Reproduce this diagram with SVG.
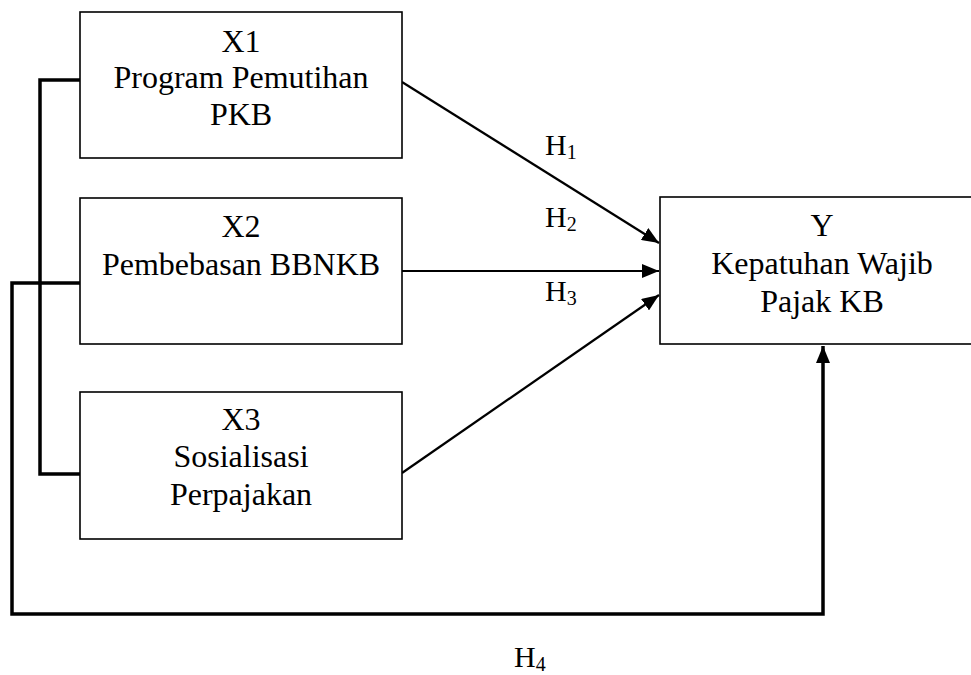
<svg xmlns="http://www.w3.org/2000/svg" width="971" height="675" viewBox="0 0 971 675">
<style>
.box{fill:#fff;stroke:#000;stroke-width:1.6}
.t{font-family:'Liberation Serif','DejaVu Serif','Times New Roman',serif;font-size:32px;fill:#000;text-anchor:middle}
.h{font-family:'Liberation Serif','DejaVu Serif','Times New Roman',serif;font-size:30px;fill:#000}
.sub{font-size:20px}
.arr{fill:none;stroke:#000;stroke-width:2.2}
.bus{fill:none;stroke:#000;stroke-width:3.5;stroke-linejoin:miter}
</style>
<defs>
<marker id="ah" markerUnits="userSpaceOnUse" markerWidth="18" markerHeight="14" refX="17" refY="7" orient="auto">
<path d="M0,0 L17,7 L0,14 z" fill="#000"/>
</marker>
</defs>
<g id="connectors">
<path class="bus" d="M80,80 H40 V474 H80"/>
<path class="bus" d="M80,283 H12 V614 H823 V346" marker-end="url(#ah)"/>
<line class="arr" x1="402" y1="82" x2="659" y2="243" marker-end="url(#ah)"/>
<line class="arr" x1="402" y1="271" x2="659" y2="271" marker-end="url(#ah)"/>
<line class="arr" x1="402" y1="473" x2="659" y2="295" marker-end="url(#ah)"/>
<text class="h" x="545" y="155">H<tspan class="sub" dy="4">1</tspan></text>
<text class="h" x="545" y="227">H<tspan class="sub" dy="4">2</tspan></text>
<text class="h" x="545" y="301">H<tspan class="sub" dy="4">3</tspan></text>
<text class="h" x="514" y="667">H<tspan class="sub" dy="4">4</tspan></text>
</g>
<g id="x1">
<rect class="box" x="80" y="12" width="322" height="146"/>
<text class="t" x="241" y="52">X1</text>
<text class="t" x="241" y="88">Program Pemutihan</text>
<text class="t" x="241" y="125">PKB</text>
</g>
<g id="x2">
<rect class="box" x="80" y="198" width="322" height="146"/>
<text class="t" x="241" y="237">X2</text>
<text class="t" x="241" y="275">Pembebasan BBNKB</text>
</g>
<g id="x3">
<rect class="box" x="80" y="392" width="322" height="147"/>
<text class="t" x="241" y="430">X3</text>
<text class="t" x="241" y="467">Sosialisasi</text>
<text class="t" x="241" y="505">Perpajakan</text>
</g>
<g id="y">
<rect class="box" x="660" y="197" width="324" height="147"/>
<text class="t" x="822" y="236">Y</text>
<text class="t" x="822" y="274">Kepatuhan Wajib</text>
<text class="t" x="822" y="312">Pajak KB</text>
</g>
</svg>
